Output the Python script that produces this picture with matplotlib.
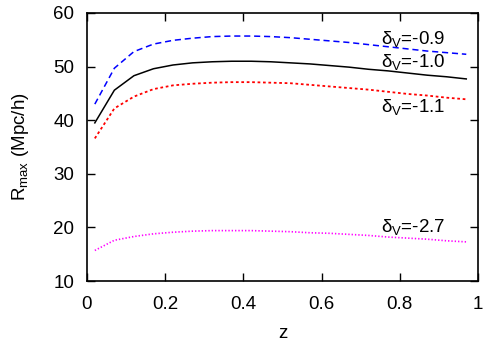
import matplotlib
matplotlib.use("Agg")
import matplotlib.pyplot as plt

plt.rcParams['font.family'] = ['Liberation Sans', 'DejaVu Sans']
plt.rcParams['mathtext.fontset'] = 'custom'
plt.rcParams['mathtext.rm'] = 'Liberation Sans'
plt.rcParams['mathtext.it'] = 'Liberation Sans:italic'

z = [0.02, 0.07, 0.12, 0.17, 0.22, 0.27, 0.32, 0.37, 0.42, 0.47, 0.52,
     0.57, 0.62, 0.67, 0.72, 0.77, 0.82, 0.87, 0.92, 0.97]
r_09 = [43.0, 49.7, 52.8, 54.2, 54.9, 55.3, 55.6, 55.7, 55.7, 55.6, 55.4,
        55.1, 54.8, 54.5, 54.1, 53.7, 53.3, 52.9, 52.6, 52.3]
r_10 = [39.5, 45.6, 48.3, 49.6, 50.3, 50.7, 50.9, 51.0, 51.0, 50.9, 50.7,
        50.5, 50.2, 49.9, 49.5, 49.2, 48.8, 48.4, 48.1, 47.7]
r_11 = [36.6, 42.2, 44.4, 45.8, 46.5, 46.8, 47.0, 47.1, 47.1, 47.0, 46.9,
        46.6, 46.3, 46.0, 45.7, 45.3, 44.9, 44.6, 44.2, 43.9]
r_27 = [15.7, 17.6, 18.3, 18.8, 19.1, 19.3, 19.4, 19.4, 19.4, 19.3, 19.2,
        19.0, 18.9, 18.7, 18.5, 18.2, 18.0, 17.8, 17.5, 17.3]

labels = ['-0.9', '-1.0', '-1.1', '-2.7']
label_y = [54.3, 49.9, 41.6, 19.2]

fig = plt.figure(figsize=(4.85, 3.46), dpi=100)
ax = fig.add_axes([87/485, 1 - 281/346, 391/485, 268/346])

ax.plot(z, r_09, color='blue', lw=1.1, ls=(0, (4, 2.5)))
ax.plot(z, r_10, color='black', lw=1.1, ls='-')
ax.plot(z, r_11, color='red', lw=1.3, ls=(0, (1.5, 1.5)))
ax.plot(z, r_27, color='magenta', lw=1.2, ls=(0, (0.8, 1.2)))

fs = 13.5
for lab, yv in zip(labels, label_y):
    ax.text(0.751, yv, 'δ$_\\mathrm{V}$=' + lab, fontsize=fs, va='baseline')

ax.set_xlim(0, 1)
ax.set_ylim(10, 60)
ax.set_xticks([0, 0.2, 0.4, 0.6, 0.8, 1])
ax.set_xticklabels(['0', '0.2', '0.4', '0.6', '0.8', '1'])
ax.set_yticks([10, 20, 30, 40, 50, 60])
ax.tick_params(direction='in', top=True, right=True, length=6, width=1,
               labelsize=fs)
ax.tick_params(axis='x', pad=11)
ax.tick_params(axis='y', pad=9)
for s in ax.spines.values():
    s.set_linewidth(1.2)

ax.set_xlabel('z', fontsize=fs)
ax.set_ylabel(r'R$_\mathrm{max}$ (Mpc/h)', fontsize=fs)
ax.xaxis.set_label_coords(0.5, -0.165)
ax.yaxis.set_label_coords(-0.143, 0.5)

fig.savefig('out.png', dpi=100)
